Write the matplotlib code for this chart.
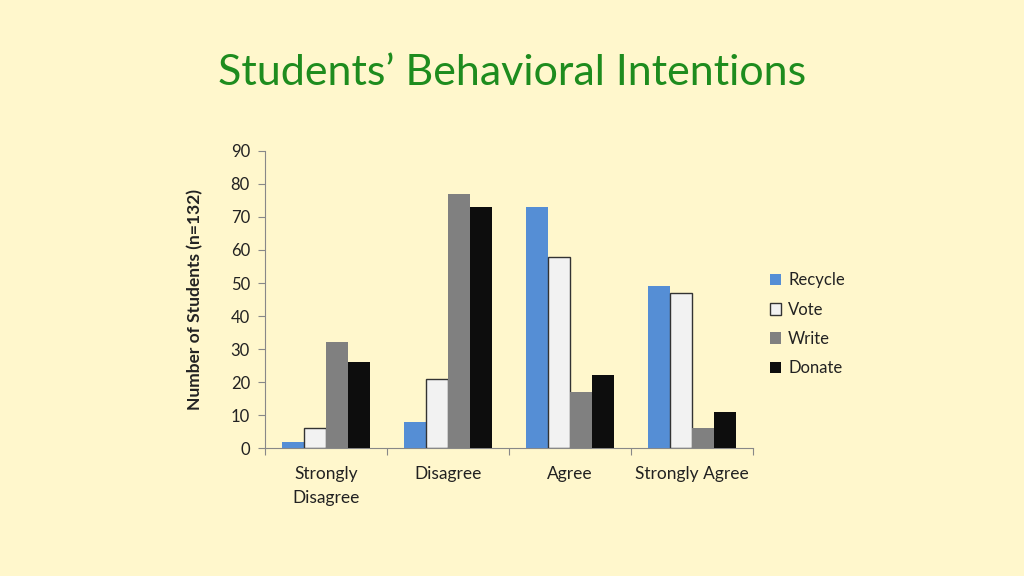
import matplotlib
matplotlib.use("Agg")
import matplotlib.pyplot as plt
import numpy as np

categories = ["Strongly\nDisagree", "Disagree", "Agree", "Strongly Agree"]
series_names = ["Recycle", "Vote", "Write", "Donate"]
recycle = [2, 8, 73, 49]
vote = [6, 21, 58, 47]
write = [32, 77, 17, 6]
donate = [26, 73, 22, 11]
yticks = [0, 10, 20, 30, 40, 50, 60, 70, 80, 90]

colors = ["#558ED5", "#F2F2F2", "#808080", "#0D0D0D"]
edges = ["#558ED5", "#333333", "#808080", "#0D0D0D"]
bg = "#FFF7CC"

plt.rcParams['font.family'] = ['Lato', 'DejaVu Sans']

fig = plt.figure(figsize=(10.24, 5.76), dpi=100, facecolor=bg)
ax = fig.add_axes([0.259, 0.222, 0.476, 0.516])
ax.set_facecolor(bg)

data = [recycle, vote, write, donate]
x = np.arange(len(categories))
w = 0.18
for i, (vals, name) in enumerate(zip(data, series_names)):
    ax.bar(x + (i - 1.5) * w, vals, width=w, color=colors[i], edgecolor=edges[i],
           linewidth=1.0 if i == 1 else 0, label=name, zorder=3)

ax.set_xlim(-0.5, len(categories) - 0.5)
ax.set_ylim(0, 90)
ax.set_yticks(yticks)
ax.set_yticklabels([str(v) for v in yticks], fontsize=12, color="#222222")
ax.set_xticks(np.arange(len(categories) + 1) - 0.5)
ax.set_xticklabels([])
ax.set_xticks(x, minor=True)
ax.set_xticklabels(categories, minor=True, fontsize=12.5, color="#222222", linespacing=1.6)
ax.tick_params(axis='x', which='minor', length=0, pad=13)
ax.tick_params(axis='x', which='major', length=5, color="#888888", direction='out')
ax.tick_params(axis='y', length=5, color="#888888", direction='out', pad=6)
for s in ["top", "right"]:
    ax.spines[s].set_visible(False)
for s in ["left", "bottom"]:
    ax.spines[s].set_color("#888888")
    ax.spines[s].set_linewidth(0.8)

ax.set_ylabel("Number of Students (n=132)", fontsize=12.5, fontweight='bold',
              color="#222222", labelpad=20)

fig.text(0.5, 0.873, "Students\u2019 Behavioral Intentions", ha='center', va='center',
         fontsize=31, color="#1E8C1E")

leg = fig.legend(loc='upper left', bbox_to_anchor=(0.737, 0.553), frameon=False,
                 fontsize=12, handlelength=0.7, handleheight=0.7, handletextpad=0.4,
                 labelspacing=0.8)
for t in leg.get_texts():
    t.set_color("#222222")

fig.savefig("out.png", dpi=100, facecolor=bg)
